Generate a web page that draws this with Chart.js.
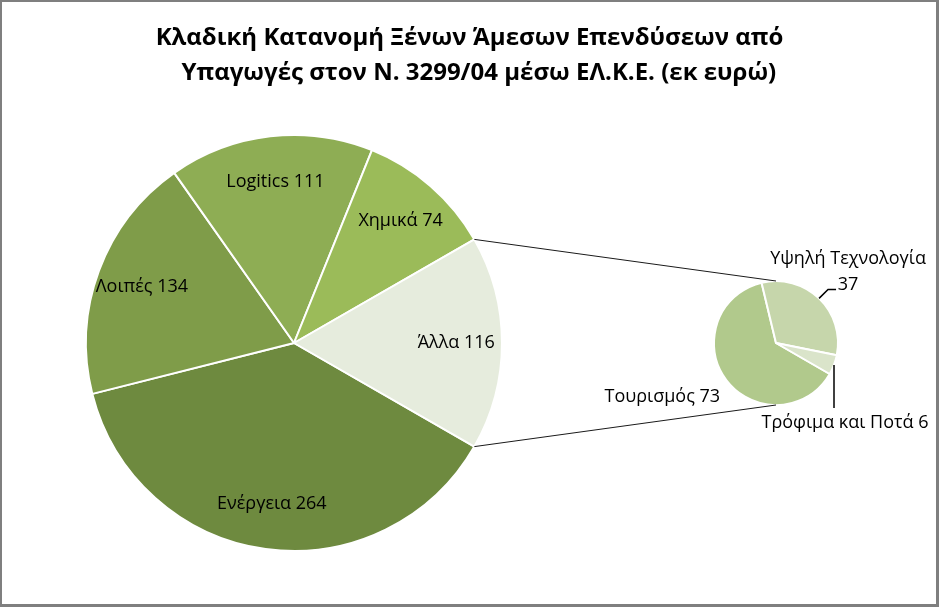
<!DOCTYPE html>
<html lang="el">
<head>
<meta charset="utf-8">
<title>Κλαδική Κατανομή Ξένων Άμεσων Επενδύσεων</title>
<script src="https://cdn.jsdelivr.net/npm/chart.js@4.4.1/dist/chart.umd.min.js"></script>
<style>
  html, body { margin: 0; padding: 0; background: #fff; }
  #wrap { position: relative; width: 939px; height: 607px; background: #fff; overflow: hidden; }
  #wrap canvas { position: absolute; left: 0; top: 0; }
  #frame {
    position: absolute; left: 0; top: 0; width: 939px; height: 607px;
    box-sizing: border-box; border-style: solid; border-color: #7f7f7f;
    border-width: 2px 3px 3px 2px; pointer-events: none; z-index: 5;
  }
</style>
</head>
<body>
<div id="wrap">
  <canvas id="mainPie" width="939" height="607"></canvas>
  <canvas id="subPie" width="939" height="607"></canvas>
  <canvas id="overlay" width="939" height="607"></canvas>
  <div id="frame"></div>
</div>
<script>
// data
const titleLines = [
  "Κλαδική Κατανομή Ξένων Άμεσων Επενδύσεων από",
  "   Υπαγωγές στον Ν. 3299/04 μέσω ΕΛ.Κ.Ε. (εκ ευρώ)"
];
const mainLabels = ["Ενέργεια", "Λοιπές", "Logitics", "Χημικά"];
const mainValues = [264, 134, 111, 74];
const otherLabel = "Άλλα";
const subLabels = ["Τουρισμός", "Υψηλή Τεχνολογία", "Τρόφιμα και Ποτά"];
const subValues = [73, 37, 6];

const mainColors = ["#6E8A3F", "#7F9C49", "#8EAD54", "#9BBB59", "#E6ECDD"];
const subColors = ["#B1C98C", "#C6D6AB", "#DAE4CA"];

const FONT = "'Open Sans', 'Noto Sans', sans-serif";

// the "other" slice of the main pie is the sum of the second pie
const otherValue = subValues.reduce((a, b) => a + b, 0);
const allMain = mainValues.concat([otherValue]);
const mainTotal = allMain.reduce((a, b) => a + b, 0);
// other slice centred on 3 o'clock
const mainRotation = 90 + (otherValue / mainTotal) * 180;

// label placement for the small pie (offsets from the slice's outer edge)
const subLabelLayout = [
  { dx: -64, dy: 17, leader: null, wrap: false },
  { dx: 29, dy: -27, leader: [[9, -9], [17, -9]], wrap: true },
  { dx: 11, dy: 58, leader: [[0, 43]], wrap: false }
];

const insideLabels = {
  id: "insideLabels",
  afterDatasetsDraw(chart) {
    const ctx = chart.ctx;
    const meta = chart.getDatasetMeta(0);
    const labels = chart.data.labels;
    const values = chart.data.datasets[0].data;
    ctx.save();
    ctx.font = "18px " + FONT;
    ctx.fillStyle = "#000";
    ctx.textAlign = "center";
    ctx.textBaseline = "middle";
    meta.data.forEach((arc, i) => {
      const p = arc.getProps(["x", "y", "startAngle", "endAngle", "outerRadius"], true);
      const mid = (p.startAngle + p.endAngle) / 2;
      const r = p.outerRadius * 0.78;
      ctx.fillText(labels[i] + " " + values[i], p.x + Math.cos(mid) * r, p.y + Math.sin(mid) * r);
    });
    ctx.restore();
  }
};

const outsideLabels = {
  id: "outsideLabels",
  afterDatasetsDraw(chart) {
    const ctx = chart.ctx;
    const meta = chart.getDatasetMeta(0);
    const labels = chart.data.labels;
    const values = chart.data.datasets[0].data;
    ctx.save();
    ctx.font = "18px " + FONT;
    ctx.fillStyle = "#000";
    ctx.strokeStyle = "#000";
    ctx.lineWidth = 1.5;
    ctx.textAlign = "center";
    ctx.textBaseline = "middle";
    meta.data.forEach((arc, i) => {
      const p = arc.getProps(["x", "y", "startAngle", "endAngle", "outerRadius"], true);
      const mid = (p.startAngle + p.endAngle) / 2;
      const ex = p.x + Math.cos(mid) * p.outerRadius;
      const ey = p.y + Math.sin(mid) * p.outerRadius;
      const lay = subLabelLayout[i];
      if (lay.leader) {
        ctx.beginPath();
        ctx.moveTo(ex, ey);
        lay.leader.forEach(pt => ctx.lineTo(ex + pt[0], ey + pt[1]));
        ctx.stroke();
      }
      const cx = ex + lay.dx, cy = ey + lay.dy;
      if (lay.wrap) {
        ctx.fillText(labels[i], cx, cy - 13);
        ctx.fillText(String(values[i]), cx, cy + 13);
      } else {
        ctx.fillText(labels[i] + " " + values[i], cx, cy);
      }
    });
    ctx.restore();
  }
};

const pieOptions = (padding, rotation) => ({
  responsive: false,
  animation: false,
  events: [],
  rotation: rotation,
  layout: { padding: padding },
  plugins: { legend: { display: false }, tooltip: { enabled: false }, title: { display: false } }
});

const mainChart = new Chart(document.getElementById("mainPie"), {
  type: "pie",
  data: {
    labels: mainLabels.concat([otherLabel]),
    datasets: [{
      data: allMain,
      backgroundColor: mainColors,
      borderColor: "#fff",
      borderWidth: 2,
      hoverOffset: 0,
      radius: 208
    }]
  },
  options: pieOptions({ left: 70, right: 421, top: 120, bottom: 41 }, mainRotation),
  plugins: [insideLabels]
});

const subChart = new Chart(document.getElementById("subPie"), {
  type: "pie",
  data: {
    labels: subLabels,
    datasets: [{
      data: subValues,
      backgroundColor: subColors,
      borderColor: "#fff",
      borderWidth: 2,
      hoverOffset: 0,
      radius: 62
    }]
  },
  options: pieOptions({ left: 690, right: 77, top: 270, bottom: 191 }, 120),
  plugins: [outsideLabels]
});

// the two lines joining the "other" slice to the small pie
const connectors = {
  id: "connectors",
  afterDraw(chart) {
    const ctx = chart.ctx;
    const other = mainChart.getDatasetMeta(0).data[allMain.length - 1]
      .getProps(["x", "y", "startAngle", "endAngle", "outerRadius"], true);
    const small = subChart.getDatasetMeta(0).data[0].getProps(["x", "y", "outerRadius"], true);
    ctx.save();
    ctx.strokeStyle = "#1a1a1a";
    ctx.lineWidth = 1;
    ctx.beginPath();
    ctx.moveTo(other.x + Math.cos(other.startAngle) * other.outerRadius,
               other.y + Math.sin(other.startAngle) * other.outerRadius);
    ctx.lineTo(small.x, small.y - small.outerRadius);
    ctx.moveTo(other.x + Math.cos(other.endAngle) * other.outerRadius,
               other.y + Math.sin(other.endAngle) * other.outerRadius);
    ctx.lineTo(small.x, small.y + small.outerRadius);
    ctx.stroke();
    ctx.restore();
  }
};

new Chart(document.getElementById("overlay"), {
  type: "pie",
  data: { labels: [], datasets: [] },
  options: {
    responsive: false,
    animation: false,
    events: [],
    plugins: {
      legend: { display: false },
      tooltip: { enabled: false },
      title: {
        display: true,
        text: titleLines,
        color: "#000",
        font: { family: FONT, size: 24, weight: "bold", lineHeight: 1.46 },
        padding: { top: 21, bottom: 0 }
      }
    }
  },
  plugins: [connectors]
});
</script>
</body>
</html>
